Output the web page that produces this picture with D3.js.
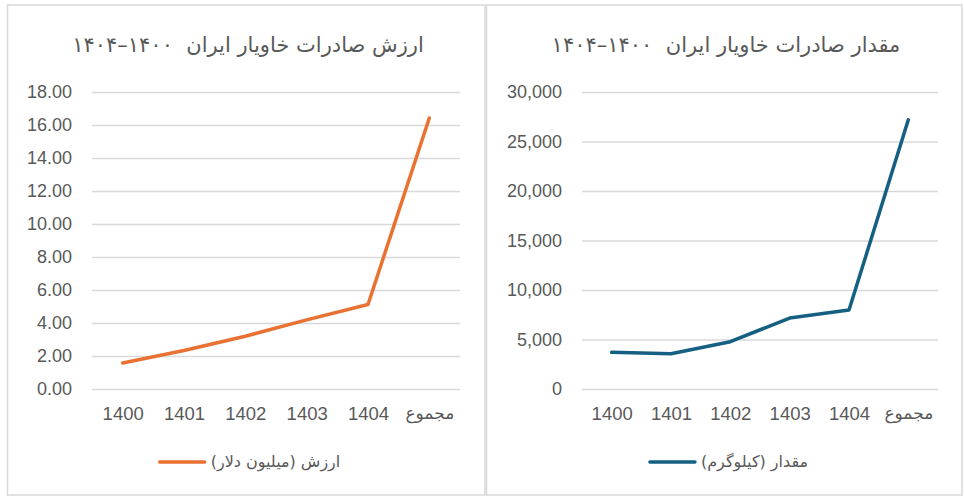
<!DOCTYPE html>
<html>
<head>
<meta charset="utf-8">
<script src="https://cdn.jsdelivr.net/npm/d3@7"></script>
<style>
  body { margin: 0; background: #fff; }
  svg { display: block; }
</style>
</head>
<body>
<div id="charts"></div>
<script>
// categories shared by both charts
const years = ["1400", "1401", "1402", "1403", "1404", "مجموع"];

// value, million dollars
const valueData = [1.58, 2.33, 3.2, 4.19, 5.12, 16.42];
const valueTicks = [0, 2, 4, 6, 8, 10, 12, 14, 16, 18];

// quantity, kilograms
const quantityData = [3700, 3560, 4780, 7170, 7980, 27190];
const quantityTicks = [0, 5000, 10000, 15000, 20000, 25000, 30000];

const valueTitle = "ارزش صادرات خاویار ایران  ۱۴۰۰–۱۴۰۴";
const quantityTitle = "مقدار صادرات خاویار ایران  ۱۴۰۰–۱۴۰۴";
const valueLegend = "ارزش (میلیون دلار)";
const quantityLegend = "مقدار (کیلوگرم)";

const width = 964;
const height = 500;
const textColor = "#595959";
const gridColor = "#d9d9d9";
const numFont = "'Liberation Sans', Arial, sans-serif";
const faFont = "'DejaVu Sans', sans-serif";

const svg = d3.select("#charts")
  .append("svg")
  .attr("width", width)
  .attr("height", height);

function drawLineChart(opts) {
  const g = svg.append("g");

  // panel border
  g.append("rect")
    .attr("x", opts.box[0])
    .attr("y", 5)
    .attr("width", opts.box[1] - opts.box[0])
    .attr("height", 490)
    .attr("fill", "#fff")
    .attr("stroke", gridColor)
    .attr("stroke-width", 1.5);

  g.append("text")
    .attr("x", opts.titleX)
    .attr("y", 52)
    .attr("direction", "rtl")
    .attr("text-anchor", "middle")
    .style("font-family", faFont)
    .style("font-size", "21px")
    .style("white-space", "pre")
    .style("fill", textColor)
    .text(opts.title);

  const xScale = d3.scalePoint()
    .domain(years)
    .range(opts.xRange)
    .padding(0.5);

  const yScale = d3.scaleLinear()
    .domain([0, d3.max(opts.ticks)])
    .range([389, 92]);

  // gridlines + y labels
  const yAxis = d3.axisLeft(yScale)
    .tickValues(opts.ticks)
    .tickSize(-(opts.xRange[1] - opts.xRange[0]))
    .tickPadding(opts.xRange[0] - opts.labelRight)
    .tickFormat(opts.format);

  const yAxisWithG = g.append("g")
    .attr("transform", `translate(${opts.xRange[0]}, 0)`)
    .call(yAxis);

  yAxisWithG.select(".domain").remove();
  yAxisWithG.selectAll(".tick line")
    .attr("stroke", gridColor)
    .attr("stroke-width", 1.3);
  yAxisWithG.selectAll(".tick text")
    .style("font-family", numFont)
    .style("font-size", "18px")
    .style("fill", textColor);

  // category labels
  const xAxis = d3.axisBottom(xScale)
    .tickSize(0)
    .tickPadding(18);

  const xAxisWithG = g.append("g")
    .attr("transform", `translate(0, 389)`)
    .call(xAxis);

  xAxisWithG.select(".domain").remove();
  xAxisWithG.selectAll(".tick text")
    .style("font-family", d => d === "مجموع" ? faFont : numFont)
    .style("font-size", d => d === "مجموع" ? "17px" : "18.5px")
    .style("fill", textColor);

  g.append("path")
    .datum(opts.data)
    .attr("fill", "none")
    .style("stroke", opts.color)
    .style("stroke-width", "3.5px")
    .style("stroke-linejoin", "round")
    .style("stroke-linecap", "round")
    .attr("d", d3.line()
      .x((d, i) => xScale(years[i]))
      .y(d => yScale(d))
    );

  // legend
  const legendText = g.append("text")
    .attr("y", 467)
    .attr("direction", "rtl")
    .attr("text-anchor", "middle")
    .style("font-family", faFont)
    .style("font-size", "16px")
    .style("fill", textColor)
    .text(opts.legend);

  const textW = legendText.node().getComputedTextLength();
  const lineLen = 45;
  const gap = 6;
  const startX = opts.legendX - (lineLen + gap + textW) / 2;

  g.append("line")
    .attr("x1", startX)
    .attr("x2", startX + lineLen)
    .attr("y1", 462)
    .attr("y2", 462)
    .attr("stroke", opts.color)
    .attr("stroke-width", 3.5)
    .attr("stroke-linecap", "round");

  legendText.attr("x", startX + lineLen + gap + textW / 2);
}

drawLineChart({
  box: [7.5, 485],
  title: valueTitle,
  titleX: 248,
  legend: valueLegend,
  legendX: 250,
  data: valueData,
  ticks: valueTicks,
  format: d3.format(".2f"),
  xRange: [92, 460],
  labelRight: 72,
  color: "#e97132"
});

drawLineChart({
  box: [486.5, 962],
  title: quantityTitle,
  titleX: 726,
  legend: quantityLegend,
  legendX: 729,
  data: quantityData,
  ticks: quantityTicks,
  format: d3.format(","),
  xRange: [582, 938],
  labelRight: 562,
  color: "#156082"
});
</script>
</body>
</html>
